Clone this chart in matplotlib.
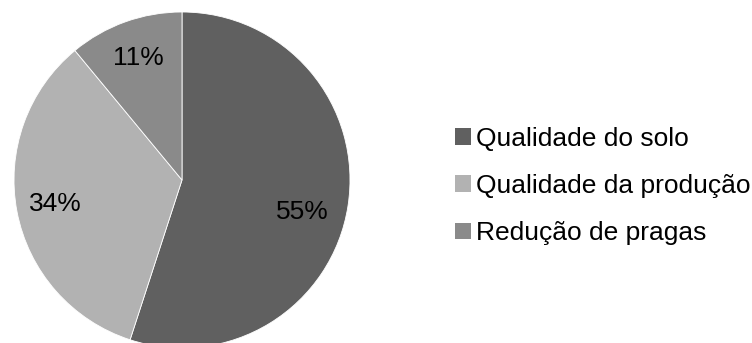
import numpy as np
import matplotlib.pyplot as plt

plt.rcParams['font.family'] = ['Liberation Sans', 'DejaVu Sans']

categories = ['Qualidade do solo', 'Qualidade da produção', 'Redução de pragas']
shares = [55, 34, 11]
colors = ['#606060', '#b2b2b2', '#8a8a8a']

# where the % labels sit inside each slice (Excel "best fit" style)
label_dist = [0.74, 0.77, 0.77]
label_shift_deg = [-6, 0, 0]

fig = plt.figure(figsize=(7.52, 3.43), dpi=100)
fig.patch.set_facecolor('white')

# pie axes placed in pixels: centre (182, 180), radius 168
W, H = 752, 343
r = 168
cx, cy = 182, 180
ax = fig.add_axes([(cx - r) / W, (H - cy - r) / H, 2 * r / W, 2 * r / H])

wedges, texts, autotexts = ax.pie(
    shares, colors=colors, startangle=90, counterclock=False,
    autopct='%1.0f%%', pctdistance=0.77,
    wedgeprops=dict(edgecolor='white', linewidth=0.6),
    textprops=dict(fontsize=19, color='black'))

for w, t, d, s in zip(wedges, autotexts, label_dist, label_shift_deg):
    mid = np.deg2rad((w.theta1 + w.theta2) / 2 + s)
    t.set_position((d * np.cos(mid), d * np.sin(mid)))

ax.set_xlim(-1, 1)
ax.set_ylim(-1, 1)
ax.set_aspect('equal')
ax.axis('off')

leg = fig.legend(wedges, categories, loc='center left',
                 bbox_to_anchor=(455 / W, 1 - 186 / H), frameon=False,
                 fontsize=19, handlelength=0.6, handleheight=0.6,
                 handletextpad=0.2, labelspacing=0.88, borderpad=0,
                 borderaxespad=0)
for h in leg.legend_handles:
    h.set_edgecolor('none')

fig.savefig('out.png', dpi=100)
